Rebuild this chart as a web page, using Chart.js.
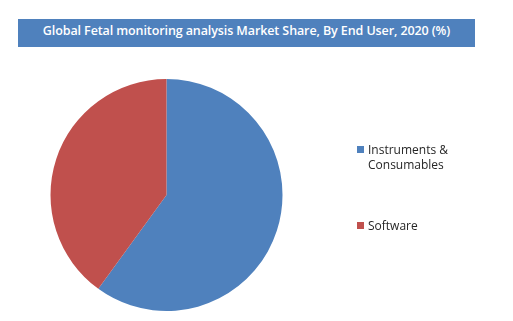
<!DOCTYPE html>
<html>
<head>
<meta charset="utf-8">
<script src="https://cdn.jsdelivr.net/npm/chart.js@4/dist/chart.umd.min.js"></script>
<style>
  html, body { margin: 0; padding: 0; background: #fff; }
  #wrap { position: relative; width: 513px; height: 321px; overflow: hidden; }
  #c { position: absolute; left: 0; top: 0; }
  #title { position: absolute; left: 18px; top: 19px; width: 457px; height: 28px; background: #4f81bd;
    color: #fff; font-family: "Open Sans", sans-serif; font-weight: 600; font-size: 12.5px;
    line-height: 24px; text-align: center; letter-spacing: -0.1px; }
  .leg { position: absolute; left: 357px; font-family: "Open Sans", sans-serif; font-size: 12px;
    color: #262626; line-height: 15px; }
  .leg .sw { position: absolute; left: 0; top: 4px; width: 7px; height: 7px; }
  .leg .tx { position: absolute; left: 11px; top: 0; white-space: nowrap; }
</style>
</head>
<body>
<div id="wrap">
  <canvas id="c" width="513" height="321"></canvas>
  <div id="title"></div>
  <div id="legend"></div>
</div>
<script>
const titleText = "Global Fetal monitoring analysis Market Share, By End User, 2020 (%)";
const categories = ["Instruments & Consumables", "Software"];
const legendLines = [["Instruments &", "Consumables"], ["Software"]];
const shares = [60, 40];
const colors = ["#4f81bd", "#c0504d"];

document.getElementById('title').textContent = titleText;

const legendTops = [142, 218];
const legend = document.getElementById('legend');
categories.forEach((cat, i) => {
  const d = document.createElement('div');
  d.className = 'leg';
  d.style.top = legendTops[i] + 'px';
  const sw = document.createElement('div');
  sw.className = 'sw';
  sw.style.background = colors[i];
  const tx = document.createElement('div');
  tx.className = 'tx';
  tx.innerHTML = legendLines[i].map(s => s.replace(/&/g, '&amp;')).join('<br>');
  d.appendChild(sw); d.appendChild(tx);
  legend.appendChild(d);
});

new Chart(document.getElementById('c'), {
  type: 'pie',
  data: {
    labels: categories,
    datasets: [{ data: shares, backgroundColor: colors, borderWidth: 0 }]
  },
  options: {
    responsive: false,
    animation: false,
    layout: { padding: { top: 79, bottom: 10, left: 50.5, right: 230.5 } },
    plugins: { legend: { display: false }, title: { display: false }, tooltip: { enabled: false } }
  }
});
</script>
</body>
</html>
